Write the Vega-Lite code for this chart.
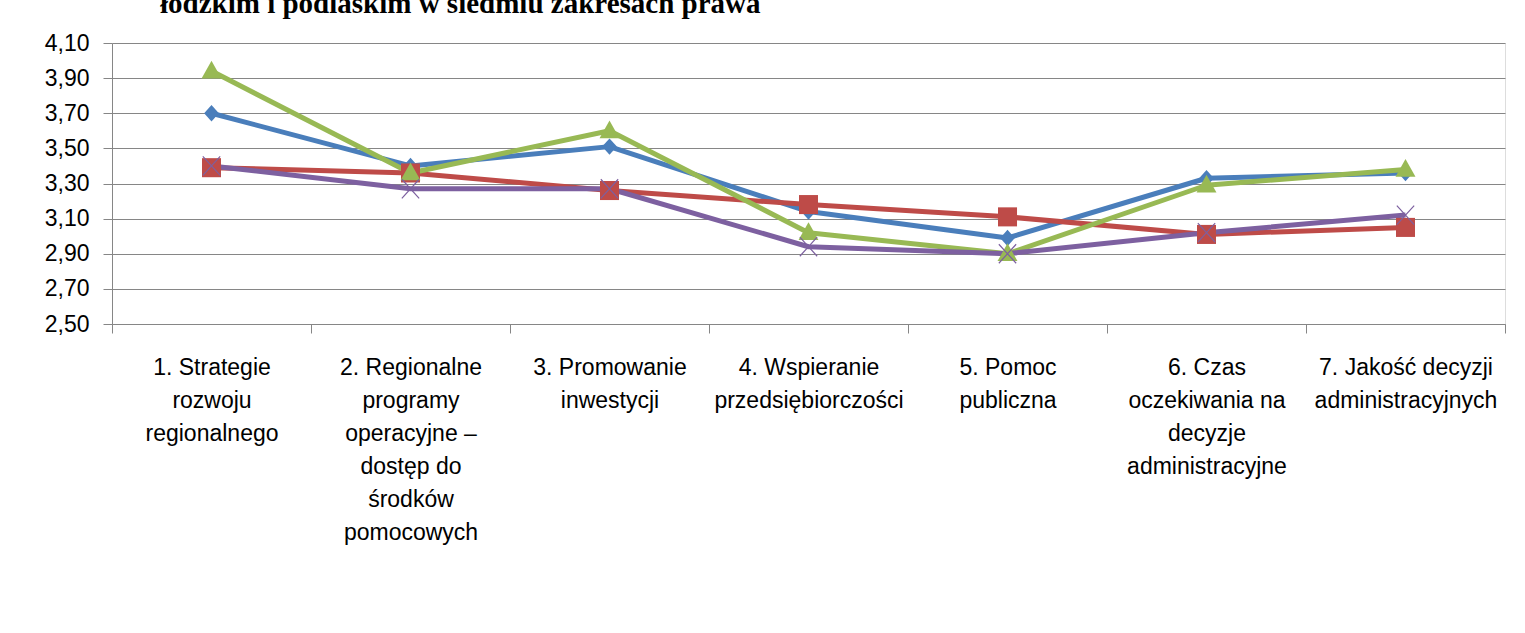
{
  "$schema": "https://vega.github.io/schema/vega-lite/v6.json",
  "width": 1393,
  "height": 281,
  "autosize": "none",
  "padding": {"left": 112, "top": 43, "right": 20, "bottom": 309},
  "background": "white",
  "config": {"legend": {"layout": {"bottom": {"anchor": "middle"}}}},
  "title": {
    "text": "łodzkim i podlaskim w siedmiu zakresach prawa",
    "anchor": "start",
    "frame": "group",
    "font": "Liberation Serif",
    "fontWeight": "bold",
    "fontSize": 29,
    "color": "black",
    "offset": 15,
    "baseline": "alphabetic",
    "dx": 48,
    "dy": 25
  },
  "data": {
    "values": [
      {"obszar": "1. Strategie|rozwoju|regionalnego", "woj": "śląskie", "ocena": 3.70},
      {"obszar": "2. Regionalne|programy|operacyjne –|dostęp do|środków|pomocowych", "woj": "śląskie", "ocena": 3.40},
      {"obszar": "3. Promowanie|inwestycji", "woj": "śląskie", "ocena": 3.51},
      {"obszar": "4. Wspieranie|przedsiębiorczości", "woj": "śląskie", "ocena": 3.14},
      {"obszar": "5. Pomoc|publiczna", "woj": "śląskie", "ocena": 2.99},
      {"obszar": "6. Czas|oczekiwania na|decyzje|administracyjne", "woj": "śląskie", "ocena": 3.33},
      {"obszar": "7. Jakość decyzji|administracyjnych", "woj": "śląskie", "ocena": 3.36},
      {"obszar": "1. Strategie|rozwoju|regionalnego", "woj": "łodzkie", "ocena": 3.39},
      {"obszar": "2. Regionalne|programy|operacyjne –|dostęp do|środków|pomocowych", "woj": "łodzkie", "ocena": 3.36},
      {"obszar": "3. Promowanie|inwestycji", "woj": "łodzkie", "ocena": 3.26},
      {"obszar": "4. Wspieranie|przedsiębiorczości", "woj": "łodzkie", "ocena": 3.18},
      {"obszar": "5. Pomoc|publiczna", "woj": "łodzkie", "ocena": 3.11},
      {"obszar": "6. Czas|oczekiwania na|decyzje|administracyjne", "woj": "łodzkie", "ocena": 3.01},
      {"obszar": "7. Jakość decyzji|administracyjnych", "woj": "łodzkie", "ocena": 3.05},
      {"obszar": "1. Strategie|rozwoju|regionalnego", "woj": "podlaskie", "ocena": 3.94},
      {"obszar": "2. Regionalne|programy|operacyjne –|dostęp do|środków|pomocowych", "woj": "podlaskie", "ocena": 3.36},
      {"obszar": "3. Promowanie|inwestycji", "woj": "podlaskie", "ocena": 3.60},
      {"obszar": "4. Wspieranie|przedsiębiorczości", "woj": "podlaskie", "ocena": 3.02},
      {"obszar": "5. Pomoc|publiczna", "woj": "podlaskie", "ocena": 2.90},
      {"obszar": "6. Czas|oczekiwania na|decyzje|administracyjne", "woj": "podlaskie", "ocena": 3.29},
      {"obszar": "7. Jakość decyzji|administracyjnych", "woj": "podlaskie", "ocena": 3.38},
      {"obszar": "1. Strategie|rozwoju|regionalnego", "woj": "pomorskie", "ocena": 3.40},
      {"obszar": "2. Regionalne|programy|operacyjne –|dostęp do|środków|pomocowych", "woj": "pomorskie", "ocena": 3.27},
      {"obszar": "3. Promowanie|inwestycji", "woj": "pomorskie", "ocena": 3.27},
      {"obszar": "4. Wspieranie|przedsiębiorczości", "woj": "pomorskie", "ocena": 2.94},
      {"obszar": "5. Pomoc|publiczna", "woj": "pomorskie", "ocena": 2.90},
      {"obszar": "6. Czas|oczekiwania na|decyzje|administracyjne", "woj": "pomorskie", "ocena": 3.02},
      {"obszar": "7. Jakość decyzji|administracyjnych", "woj": "pomorskie", "ocena": 3.12}
    ]
  },
  "encoding": {
    "x": {
      "field": "obszar",
      "type": "nominal",
      "sort": null,
      "scale": {"paddingInner": 0, "paddingOuter": 0},
      "axis": {
        "title": null,
        "labelExpr": "split(datum.label, '|')",
        "labelAngle": 0,
        "labelAlign": "center",
        "labelBaseline": "top",
        "labelOverlap": false,
        "labelLimit": 260,
        "labelFont": "Liberation Sans",
        "labelFontSize": 23,
        "labelLineHeight": 33,
        "labelColor": "black",
        "labelPadding": 23,
        "tickBand": "extent",
        "tickSize": 9,
        "tickColor": "#868686",
        "tickWidth": 1,
        "domainColor": "#868686",
        "domainWidth": 1,
        "grid": false
      }
    },
    "y": {
      "field": "ocena",
      "type": "quantitative",
      "scale": {"domain": [2.5, 4.1], "zero": false, "nice": false},
      "axis": {
        "title": null,
        "values": [2.5, 2.7, 2.9, 3.1, 3.3, 3.5, 3.7, 3.9, 4.1],
        "labelExpr": "replace(format(datum.value, '.2f'), '.', ',')",
        "labelFont": "Liberation Sans",
        "labelFontSize": 23,
        "labelColor": "black",
        "labelPadding": 14,
        "tickSize": 9,
        "tickColor": "#868686",
        "domainColor": "#868686",
        "grid": true,
        "gridColor": "#868686",
        "gridWidth": 1
      }
    }
  },
  "layer": [
    {
      "mark": {"type": "line", "strokeWidth": 5, "strokeJoin": "round"},
      "encoding": {
        "stroke": {
          "field": "woj",
          "type": "nominal",
          "sort": null,
          "scale": {
            "domain": ["śląskie", "łodzkie", "podlaskie", "pomorskie"],
            "range": ["#4A7EBB", "#BE4B48", "#98B954", "#7D60A0"]
          },
          "legend": null
        }
      }
    },
    {
      "transform": [{"filter": "datum.woj === 'śląskie'"}],
      "mark": {"type": "point", "filled": true, "size": 300, "opacity": 1, "color": "#4A7EBB", "shape": "M0,-0.95L0.85,0L0,0.95L-0.85,0Z"}
    },
    {
      "transform": [{"filter": "datum.woj === 'łodzkie'"}],
      "mark": {"type": "point", "filled": true, "size": 300, "opacity": 1, "color": "#BE4B48", "shape": "M-1.1,-1.1H1.1V1.1H-1.1Z"}
    },
    {
      "transform": [{"filter": "datum.woj === 'podlaskie'"}],
      "mark": {"type": "point", "filled": true, "size": 300, "opacity": 1, "color": "#98B954", "shape": "M0,-1.2L1.15,0.85H-1.15Z"}
    },
    {
      "transform": [{"filter": "datum.woj === 'pomorskie'"}],
      "mark": {"type": "point", "filled": false, "size": 300, "opacity": 1, "strokeWidth": 1.2, "color": "#7D60A0", "shape": "M-1,-1.1L1,1.1M-1,1.1L1,-1.1"}
    },
    {
      "transform": [{"filter": "false"}],
      "mark": {"type": "point", "filled": true},
      "encoding": {
        "color": {
          "field": "woj",
          "type": "nominal",
          "sort": null,
          "scale": {
            "domain": ["śląskie", "łodzkie", "podlaskie", "pomorskie"],
            "range": ["#4A7EBB", "#BE4B48", "#98B954", "#7D60A0"]
          },
          "legend": {
            "title": null,
            "orient": "bottom",
            "offset": 22,
            "direction": "horizontal",
            "symbolSize": 3600,
            "columnPadding": 45,
            "labelOffset": 3,
            "labelFont": "Liberation Sans",
            "labelFontSize": 22,
            "labelColor": "black"
          }
        },
        "shape": {
          "field": "woj",
          "type": "nominal",
          "sort": null,
          "scale": {
            "domain": ["śląskie", "łodzkie", "podlaskie", "pomorskie"],
            "range": [
              "M-1,-0.07H1V0.07H-1Z M0,-0.27L0.23,0L0,0.27L-0.23,0Z",
              "M-1,-0.07H1V0.07H-1Z M-0.27,-0.27H0.27V0.27H-0.27Z",
              "M-1,-0.07H1V0.07H-1Z M0,-0.3L0.3,0.23H-0.3Z",
              "M-1,-0.07H1V0.07H-1Z M-0.289,-0.283L0.251,0.317L0.289,0.283L-0.251,-0.317Z M-0.251,0.317L0.289,-0.283L0.251,-0.317L-0.289,0.283Z"
            ]
          },
          "legend": {
            "title": null,
            "orient": "bottom",
            "offset": 22,
            "direction": "horizontal",
            "symbolSize": 3600,
            "columnPadding": 45,
            "labelOffset": 3,
            "labelFont": "Liberation Sans",
            "labelFontSize": 22,
            "labelColor": "black"
          }
        }
      }
    }
  ]
}
